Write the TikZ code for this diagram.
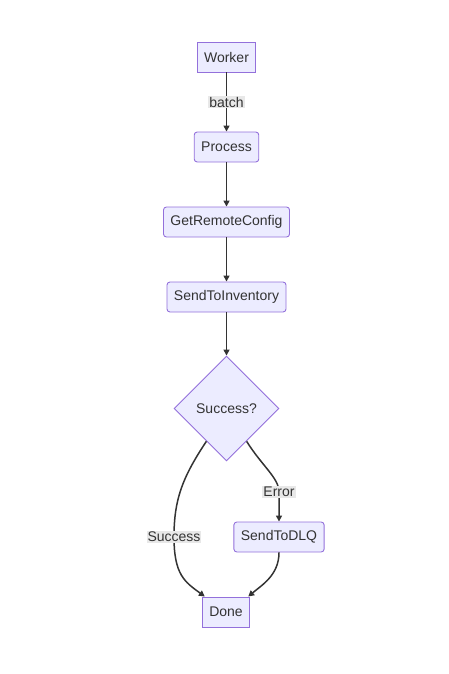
\documentclass[tikz,border=0pt]{standalone}
\usepackage{fontspec}
\setmainfont{Liberation Sans}
\usetikzlibrary{shapes.geometric,arrows.meta,calc}
\definecolor{nfill}{HTML}{ECECFF}
\definecolor{nstroke}{HTML}{9370DB}
\definecolor{ink}{HTML}{333333}
\definecolor{lblbg}{HTML}{E8E8E8}
\begin{document}
\begin{tikzpicture}[x=1pt,y=-1pt,
  font=\fontsize{14}{16}\selectfont, text=ink,
  box/.style={draw=nstroke, fill=nfill, line width=0.9pt, minimum height=30pt, inner xsep=7pt, inner ysep=0pt, anchor=center},
  rbox/.style={box, rounded corners=3pt},
  dia/.style={diamond, draw=nstroke, fill=nfill, line width=0.9pt, minimum width=105pt, minimum height=105pt, inner sep=0pt, aspect=1},
  lbl/.style={fill=lblbg, inner sep=1pt, text=ink},
  edge/.style={draw=ink, line width=1.5pt, -{Triangle[length=6pt,width=6pt]}}
]
\useasboundingbox (0,0) rectangle (449,674);
\node[box] (worker) at (226.5,57) {Worker};
\node[rbox] (process) at (226.5,147) {Process};
\node[rbox] (grc) at (226.5,222) {GetRemoteConfig};
\node[rbox] (sti) at (226.5,297) {SendToInventory};
\node[dia] (dec) at (226.5,408.5) {Success?};
\node[rbox] (dlq) at (279,537) {SendToDLQ};
\node[box] (done) at (226,612) {Done};

\coordinate (dl) at ($(dec.south)!0.38!(dec.west)$);
\coordinate (dr) at ($(dec.south)!0.38!(dec.east)$);
\coordinate (donel) at ($(done.north west)+(3,0)$);
\coordinate (doner) at ($(done.north east)+(-2,0)$);

\draw[edge] (worker) -- node[lbl] (lb) {batch} (process);
\draw[edge] (process) -- (grc);
\draw[edge] (grc) -- (sti);
\draw[edge] (sti) -- (dec);
\draw[edge] (dl) .. controls (182,478) and (174,500) .. (174,537) node[lbl] (ls) {Success}
  .. controls (174,575) and (185,582) .. (donel);
\draw[edge] (dr) .. controls (262,466) and (279,478) .. (279,492) node[lbl] (le) {Error}
  .. controls (279,505) and (279,512) .. (dlq.north);
\draw[edge] (dlq.south) .. controls (279,575) and (262,585) .. (doner);
\end{tikzpicture}
\end{document}
